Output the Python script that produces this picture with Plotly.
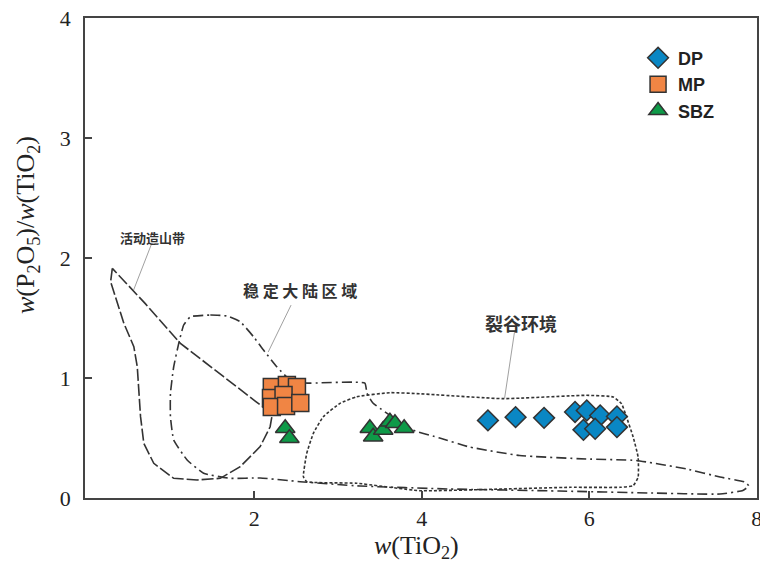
import plotly.graph_objects as go

# --- sample compositions: TiO2 (wt%) vs P2O5/TiO2 ---
dp_tio2 = [4.79, 5.12, 5.46, 5.83, 5.97, 6.13, 6.33, 5.93, 6.07, 6.33]
dp_ratio = [0.647, 0.674, 0.668, 0.717, 0.730, 0.688, 0.680, 0.568, 0.577, 0.591]

mp_tio2 = [2.21, 2.39, 2.51, 2.20, 2.35, 2.21, 2.38, 2.55]
mp_ratio = [0.925, 0.942, 0.925, 0.833, 0.858, 0.758, 0.767, 0.792]

sbz_tio2 = [2.37, 2.42, 3.38, 3.42, 3.54, 3.62, 3.68, 3.79]
sbz_ratio = [0.581, 0.498, 0.581, 0.511, 0.567, 0.636, 0.623, 0.581]

# --- tectonic setting fields (closed outlines) ---
orogen_x = [0.306, 0.286, 0.444, 0.563, 0.604, 0.643, 0.682, 0.801, 1.039, 1.318,
            1.595, 1.833, 2.071, 2.190, 2.211, 2.151, 1.635, 1.119, 0.700, 0.306]
orogen_y = [1.914, 1.803, 1.456, 1.261, 1.094, 0.678, 0.456, 0.289, 0.164, 0.150,
            0.164, 0.261, 0.428, 0.594, 0.678, 0.733, 1.011, 1.289, 1.620, 1.914]

craton_x = [1.238, 1.476, 1.675, 1.833, 1.992, 2.111, 2.270, 2.429, 2.607, 3.321,
            3.345, 3.417, 3.893, 4.214, 4.571, 5.167, 5.964, 6.560, 7.161, 7.560,
            7.857, 7.905, 7.833, 7.560, 6.714, 5.643, 4.333, 3.262, 2.548, 2.071,
            1.714, 1.396, 1.199, 1.039, 1.000, 1.000, 1.039, 1.099, 1.158, 1.238]
craton_y = [1.511, 1.525, 1.517, 1.469, 1.344, 1.233, 1.094, 0.983, 0.958, 0.958,
            0.875, 0.792, 0.567, 0.500, 0.425, 0.354, 0.325, 0.313, 0.242, 0.175,
            0.133, 0.100, 0.063, 0.033, 0.042, 0.058, 0.075, 0.100, 0.136, 0.167,
            0.164, 0.206, 0.317, 0.483, 0.678, 0.872, 1.094, 1.289, 1.442, 1.511]

rift_x = [2.587, 2.627, 2.706, 2.825, 3.024, 3.223, 3.619, 3.976, 4.971, 5.964,
          6.286, 6.385, 6.444, 6.524, 6.583, 6.583, 6.524, 6.365, 5.768, 4.971,
          3.976, 3.223, 2.627, 2.587]
rift_y = [0.178, 0.372, 0.539, 0.678, 0.789, 0.844, 0.878, 0.869, 0.828, 0.856,
          0.842, 0.786, 0.675, 0.508, 0.340, 0.173, 0.103, 0.089, 0.089, 0.075,
          0.061, 0.123, 0.136, 0.178]

# field labels and their leader lines (text anchor, then line start -> end)
field_names = ["活动造山带", "稳 定 大 陆 区 域", "裂谷环境"]
field_label_x = [0.786, 2.548, 5.190]
field_label_y = [2.175, 1.733, 1.458]
field_font_size = [13, 16, 18]
leader_x0 = [0.774, 2.440, 5.107]
leader_y0 = [2.117, 1.608, 1.383]
leader_x1 = [0.560, 2.167, 4.988]
leader_y1 = [1.733, 1.217, 0.828]

x_ticks = [2, 4, 6, 8]
y_ticks = [0, 1, 2, 3, 4]

INK = "#333333"
AXIS = "#444444"
SERIF = "Liberation Serif, Times New Roman, serif"
CJK = "Noto Sans CJK SC, sans-serif"

fig = go.Figure()

# field boundaries
fig.add_trace(go.Scatter(x=orogen_x, y=orogen_y, mode="lines", showlegend=False,
                         hoverinfo="skip",
                         line=dict(color=INK, width=1.6, dash="12px,3px")))
fig.add_trace(go.Scatter(x=craton_x, y=craton_y, mode="lines", showlegend=False,
                         hoverinfo="skip",
                         line=dict(color=INK, width=1.6, dash="10px,4px,2px,4px"),
                         line_shape="spline", line_smoothing=0.4))
fig.add_trace(go.Scatter(x=rift_x, y=rift_y, mode="lines", showlegend=False,
                         hoverinfo="skip",
                         line=dict(color=INK, width=1.6, dash="3px,2px"),
                         line_shape="spline", line_smoothing=0.4))

# samples
fig.add_trace(go.Scatter(x=dp_tio2, y=dp_ratio, mode="markers", name="DP",
                         marker=dict(symbol="diamond", size=16, color="#0a87c4",
                                     line=dict(color=INK, width=1.5))))
fig.add_trace(go.Scatter(x=mp_tio2, y=mp_ratio, mode="markers", name="MP",
                         marker=dict(symbol="square", size=17, color="#f08544",
                                     line=dict(color=INK, width=1.5))))
fig.add_trace(go.Scatter(x=sbz_tio2, y=sbz_ratio, mode="markers", name="SBZ",
                         marker=dict(symbol="triangle-up", size=17, color="#0e9a48",
                                     line=dict(color=INK, width=1.5))))

for i, name in enumerate(field_names):
    fig.add_shape(type="line", xref="x", yref="y",
                  x0=leader_x0[i], y0=leader_y0[i], x1=leader_x1[i], y1=leader_y1[i],
                  line=dict(color="#888888", width=0.8))
    fig.add_annotation(x=field_label_x[i], y=field_label_y[i], xref="x", yref="y",
                       text=name, showarrow=False, xanchor="center", yanchor="middle",
                       font=dict(family=CJK, size=field_font_size[i], color=INK,
                                 weight="bold"))

# axis titles
fig.add_annotation(xref="paper", yref="paper", x=-0.086, y=0.569,
                   text="<i>w</i>(P<sub>2</sub>O<sub>5</sub>)/<i>w</i>(TiO<sub>2</sub>)",
                   textangle=-90, showarrow=False, xanchor="center", yanchor="middle",
                   font=dict(family=SERIF, size=26, color="#222222"))
fig.add_annotation(xref="paper", yref="paper", x=0.4926, y=-0.103,
                   text="<i>w</i>(TiO<sub>2</sub>)",
                   showarrow=False, xanchor="center", yanchor="middle",
                   font=dict(family=SERIF, size=26, color="#222222"))

axis_common = dict(showgrid=False, zeroline=False, showline=True, linecolor=AXIS,
                   linewidth=1.5, mirror=True, ticks="inside", ticklen=7,
                   tickwidth=1.5, tickcolor=AXIS, ticklabeloverflow="allow",
                   automargin=False,
                   tickfont=dict(family=SERIF, size=22, color="#222222"))

fig.update_xaxes(range=[-0.02, 8.002], tickvals=x_ticks, ticklabelstandoff=0,
                 **axis_common)
fig.update_yaxes(range=[0, 4.001], tickvals=y_ticks, ticklabelstandoff=8,
                 **axis_common)

fig.update_layout(
    width=760, height=565,
    margin=dict(l=85, r=3, t=18, b=67),
    plot_bgcolor="white", paper_bgcolor="white",
    legend=dict(x=0.823, y=0.955, xanchor="left", yanchor="top",
                bgcolor="rgba(0,0,0,0)", borderwidth=0,
                font=dict(family="Liberation Sans, Arial, sans-serif", size=18,
                          color="#222222", weight="bold"),
                tracegroupgap=0),
)

fig.write_html("out.html")
